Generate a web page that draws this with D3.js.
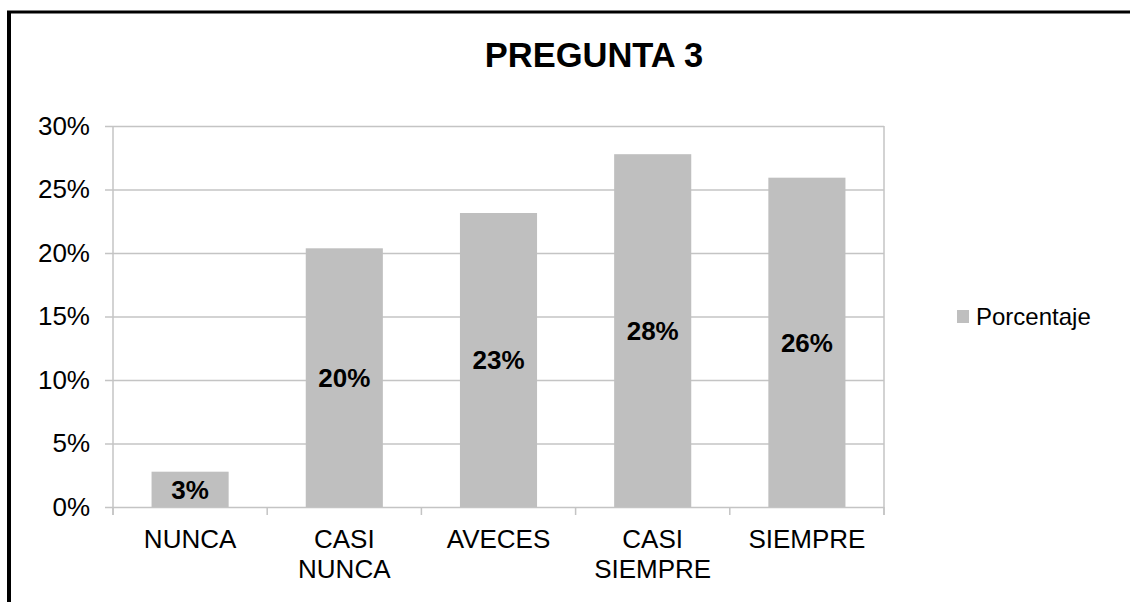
<!DOCTYPE html>
<html>
<head>
<meta charset="utf-8">
<script src="https://cdn.jsdelivr.net/npm/d3@7"></script>
<style>
  body { margin: 0; background: #fff; }
  text { font-family: "Liberation Sans", Arial, sans-serif; fill: #000; }
</style>
</head>
<body>
<div id="chart"></div>
<script>
// Data
var categories = ["NUNCA", "CASI NUNCA", "AVECES", "CASI SIEMPRE", "SIEMPRE"];
var porcentaje = [2.78, 20.37, 23.15, 27.78, 25.93];
var yTicks = [0, 5, 10, 15, 20, 25, 30];
var title = "PREGUNTA 3";
var seriesName = "Porcentaje";

var W = 1130, H = 602;
var plot = {left: 113, right: 884, top: 126, bottom: 507};
var barColor = "#bfbfbf", gridColor = "#c4c4c4";

var svg = d3.select("#chart")
    .append("svg")
        .attr("width", W)
        .attr("height", H);

// frame (only top and left edges show)
svg.append("line")
    .attr("x1", 7).attr("x2", W).attr("y1", 12).attr("y2", 12)
    .attr("stroke", "#000").attr("stroke-width", 3);
svg.append("line")
    .attr("x1", 9).attr("x2", 9).attr("y1", 11).attr("y2", H)
    .attr("stroke", "#000").attr("stroke-width", 4);

var x = d3.scaleBand()
    .domain(categories)
    .range([plot.left, plot.right])
    .paddingInner(0.5)
    .paddingOuter(0.25);

var y = d3.scaleLinear()
    .domain([0, 30])
    .range([plot.bottom, plot.top]);

var fmt = function(v) { return d3.format(".0%")(v / 100); };

// gridlines + y axis
var yAxis = d3.axisLeft(y)
    .tickValues(yTicks)
    .tickSize(-(plot.right - plot.left))
    .tickPadding(23)
    .tickFormat(fmt);

var gy = svg.append("g")
    .attr("transform", "translate(" + plot.left + ",0)")
    .call(yAxis);
gy.select(".domain").remove();
gy.selectAll(".tick line")
    .attr("x1", -8)
    .attr("stroke", gridColor)
    .attr("stroke-width", 1.5);
gy.selectAll(".tick text")
    .attr("font-size", 26)
    .attr("font-family", "Liberation Sans, Arial, sans-serif");

// vertical axis lines (left and right of plot)
[plot.left, plot.right].forEach(function(px) {
    svg.append("line")
        .attr("x1", px).attr("x2", px)
        .attr("y1", plot.top).attr("y2", plot.bottom + 8)
        .attr("stroke", gridColor).attr("stroke-width", 1.5);
});

// category boundary ticks
var step = x.step();
d3.range(categories.length + 1).forEach(function(i) {
    var px = plot.left + i * step;
    svg.append("line")
        .attr("x1", px).attr("x2", px)
        .attr("y1", plot.bottom).attr("y2", plot.bottom + 8)
        .attr("stroke", gridColor).attr("stroke-width", 1.5);
});

// bars
var data = categories.map(function(c, i) { return {cat: c, val: porcentaje[i]}; });

svg.selectAll(".bar")
    .data(data)
    .enter().append("rect")
    .attr("class", "bar")
    .attr("x", d => x(d.cat))
    .attr("width", x.bandwidth())
    .attr("y", d => y(d.val))
    .attr("height", d => y(0) - y(d.val))
    .attr("fill", barColor);

// data labels, centered in bar
svg.selectAll(".lbl")
    .data(data)
    .enter().append("text")
    .attr("class", "lbl")
    .attr("x", d => x(d.cat) + x.bandwidth() / 2)
    .attr("y", d => (y(d.val) + y(0)) / 2 + 9.5)
    .attr("text-anchor", "middle")
    .attr("font-size", 26)
    .attr("font-weight", "bold")
    .text(d => fmt(d.val));

// category labels (wrap on space)
var xl = svg.selectAll(".xl")
    .data(categories)
    .enter().append("text")
    .attr("class", "xl")
    .attr("text-anchor", "middle")
    .attr("font-size", 26);
xl.each(function(c) {
    var words = c.split(" ");
    var t = d3.select(this);
    words.forEach(function(w, i) {
        t.append("tspan")
            .attr("x", x(c) + x.bandwidth() / 2)
            .attr("y", 548 + i * 30)
            .text(w);
    });
});

// title
svg.append("text")
    .attr("x", 594)
    .attr("y", 67)
    .attr("text-anchor", "middle")
    .attr("font-size", 34.5)
    .attr("font-weight", "bold")
    .text(title);

// legend
svg.append("rect")
    .attr("x", 957).attr("y", 310)
    .attr("width", 12).attr("height", 13)
    .attr("fill", barColor);
svg.append("text")
    .attr("x", 976).attr("y", 325)
    .attr("font-size", 24)
    .text(seriesName);
</script>
</body>
</html>
